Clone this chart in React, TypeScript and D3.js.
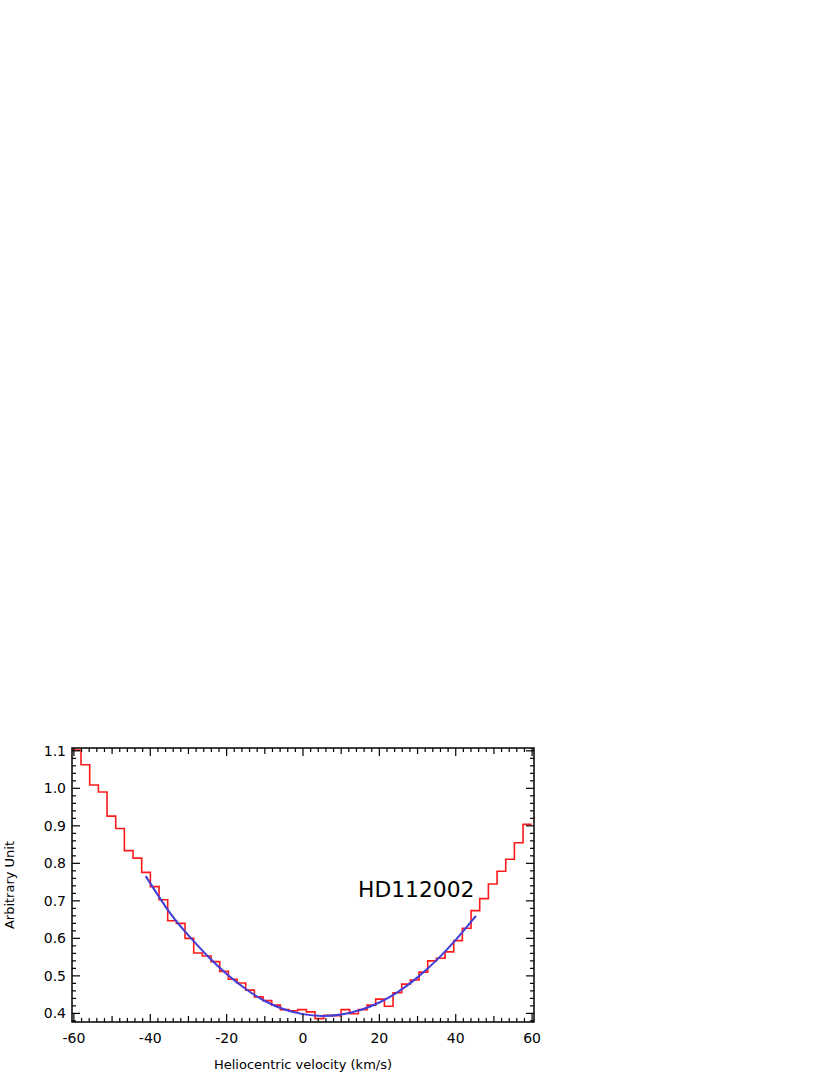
import React, { useEffect, useRef } from 'react';
import * as d3 from 'd3';

// bin centres of the observed profile (km/s)
const velocity = [
  -59.27, -57.0, -54.73, -52.46, -50.19, -47.92, -45.65, -43.38, -41.11, -38.84,
  -36.57, -34.3, -32.03, -29.76, -27.49, -25.22, -22.95, -20.68, -18.41, -16.14,
  -13.87, -11.6, -9.33, -7.06, -4.79, -2.52, -0.25, 2.02, 4.29, 6.56,
  8.83, 11.1, 13.37, 15.64, 17.91, 20.18, 22.45, 24.72, 26.99, 29.26,
  31.53, 33.8, 36.07, 38.34, 40.61, 42.88, 45.15, 47.42, 49.69, 51.96,
  54.23, 56.5, 58.77,
];

// observed flux (arbitrary unit)
const flux = [
  1.102, 1.063, 1.009, 0.99, 0.926, 0.893, 0.834, 0.814, 0.776, 0.738,
  0.703, 0.647, 0.64, 0.6, 0.561, 0.553, 0.538, 0.512, 0.491, 0.481,
  0.462, 0.444, 0.434, 0.422, 0.41, 0.407, 0.41, 0.404, 0.386, 0.395,
  0.394, 0.41, 0.399, 0.41, 0.422, 0.438, 0.419, 0.455, 0.478, 0.489,
  0.51, 0.54, 0.547, 0.564, 0.594, 0.627, 0.674, 0.706, 0.745, 0.779,
  0.811, 0.855, 0.904,
];

// fitted profile
const fitVelocity = [-41.2, -35, -30, -25, -20, -15, -10, -5, 0, 5, 10, 15, 20, 25, 30, 35, 40, 45.3];
const fitFlux = [0.766, 0.67, 0.608, 0.553, 0.505, 0.465, 0.433, 0.411, 0.398, 0.393, 0.397, 0.409, 0.429, 0.458, 0.496, 0.542, 0.596, 0.66];

const xTicks = [-60, -40, -20, 0, 20, 40, 60];
const yTicks = [0.4, 0.5, 0.6, 0.7, 0.8, 0.9, 1.0, 1.1];

const starName = 'HD112002';
const xTitle = 'Heliocentric velocity (km/s)';
const yTitle = 'Arbitrary Unit';

export default function App() {
  const ref = useRef<SVGSVGElement>(null);

  useEffect(() => {
    const svg = d3.select(ref.current);
    svg.selectAll('*').remove();

    const left = 72, right = 534, top = 748, bottom = 1022;
    const x = d3.scaleLinear().domain([-60.5, 60.5]).range([left, right]);
    const y = d3.scaleLinear().domain([0.377, 1.1075]).range([bottom, top]);
    const font = '"DejaVu Sans", Verdana, sans-serif';

    svg.append('rect').attr('width', 830).attr('height', 1075).attr('fill', '#fff');

    svg.append('clipPath').attr('id', 'plot')
      .append('rect')
      .attr('x', left).attr('y', top)
      .attr('width', right - left).attr('height', bottom - top);

    // step histogram: each bin is a flat segment between its edges
    const steps: [number, number][] = [];
    velocity.forEach((v, i) => {
      const w = i < velocity.length - 1 ? velocity[i + 1] - v : v - velocity[i - 1];
      steps.push([v - w / 2, flux[i]]);
      steps.push([v + w / 2, flux[i]]);
    });
    const line = d3.line<[number, number]>().x((d) => x(d[0])).y((d) => y(d[1]));

    svg.append('path')
      .attr('clip-path', 'url(#plot)')
      .attr('d', line(steps))
      .attr('fill', 'none')
      .attr('stroke', '#ff1a1a')
      .attr('stroke-width', 1.6);

    const fit = fitVelocity.map((v, i) => [v, fitFlux[i]] as [number, number]);
    svg.append('path')
      .attr('d', line.curve(d3.curveNatural)(fit))
      .attr('fill', 'none')
      .attr('stroke', '#3a3ad8')
      .attr('stroke-width', 2);
    svg.append('path')
      .attr('d', line(fit))
      .attr('fill', 'none')
      .attr('stroke', '#7a55c8')
      .attr('stroke-width', 0.8)
      .attr('stroke-dasharray', '1,2');

    // ticks on all four sides, pointing inwards
    const g = svg.append('g').attr('stroke', '#000').attr('stroke-width', 1.2);
    for (let v = -60; v <= 60; v += 2) {
      const len = v % 20 === 0 ? 8 : v % 10 === 0 ? 6 : 4;
      const px = x(v);
      g.append('line').attr('x1', px).attr('x2', px).attr('y1', bottom).attr('y2', bottom - len);
      g.append('line').attr('x1', px).attr('x2', px).attr('y1', top).attr('y2', top + len);
    }
    for (let k = 19; k <= 55; k++) {
      const v = k / 50;
      const len = k % 5 === 0 ? 8 : 4;
      const py = y(v);
      g.append('line').attr('x1', left).attr('x2', left + len).attr('y1', py).attr('y2', py);
      g.append('line').attr('x1', right).attr('x2', right - len).attr('y1', py).attr('y2', py);
    }

    svg.append('rect')
      .attr('x', left).attr('y', top)
      .attr('width', right - left).attr('height', bottom - top)
      .attr('fill', 'none')
      .attr('stroke', '#000')
      .attr('stroke-width', 1.5);

    svg.append('g').selectAll('text')
      .data(xTicks)
      .enter().append('text')
      .attr('x', (d) => x(d))
      .attr('y', 1043)
      .attr('text-anchor', 'middle')
      .attr('font-family', font)
      .attr('font-size', 14)
      .text((d) => String(d));

    svg.append('g').selectAll('text')
      .data(yTicks)
      .enter().append('text')
      .attr('x', 66)
      .attr('y', (d) => y(d) + 5)
      .attr('text-anchor', 'end')
      .attr('font-family', font)
      .attr('font-size', 14)
      .text((d) => d.toFixed(1));

    svg.append('text')
      .attr('x', (left + right) / 2)
      .attr('y', 1069)
      .attr('text-anchor', 'middle')
      .attr('font-family', font)
      .attr('font-size', 13)
      .text(xTitle);

    svg.append('text')
      .attr('transform', `translate(14,${(top + bottom) / 2}) rotate(-90)`)
      .attr('text-anchor', 'middle')
      .attr('font-family', font)
      .attr('font-size', 13)
      .text(yTitle);

    svg.append('text')
      .attr('x', 358)
      .attr('y', 897)
      .attr('font-family', font)
      .attr('font-size', 21.8)
      .text(starName);
  }, []);

  return (
    <div style={{ position: 'absolute', left: 0, top: 0 }}>
      <svg ref={ref} width={830} height={1075} />
    </div>
  );
}
